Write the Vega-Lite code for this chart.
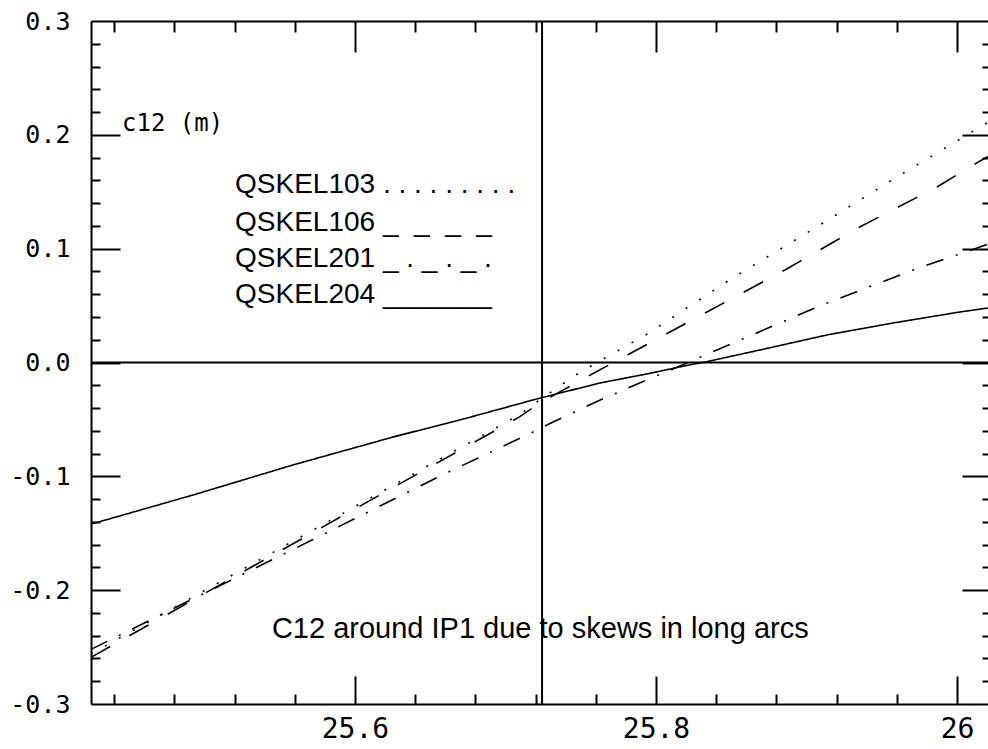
{
  "$schema": "https://vega.github.io/schema/vega-lite/v6.json",
  "width": 897,
  "height": 683,
  "autosize": {"type": "none"},
  "padding": {"left": 91, "top": 21, "right": 0, "bottom": 45},
  "background": "white",
  "config": {
    "view": {"stroke": null},
    "axis": {"grid": false, "title": null, "domainColor": "black", "domainWidth": 2, "tickColor": "black", "tickWidth": 2, "labelColor": "black", "labelFont": "DejaVu Sans Mono", "labelFlush": false, "labelOverlap": false}
  },
  "datasets": {
    "lines": [
      {"series": "QSKEL204", "x": 25.4246, "y": -0.142},
      {"series": "QSKEL204", "x": 25.4924, "y": -0.1164},
      {"series": "QSKEL204", "x": 25.5588, "y": -0.090},
      {"series": "QSKEL204", "x": 25.6252, "y": -0.0655},
      {"series": "QSKEL204", "x": 25.6744, "y": -0.0488},
      {"series": "QSKEL204", "x": 25.7236, "y": -0.031},
      {"series": "QSKEL204", "x": 25.7628, "y": -0.018},
      {"series": "QSKEL204", "x": 25.7960, "y": -0.0095},
      {"series": "QSKEL204", "x": 25.8226, "y": -0.002},
      {"series": "QSKEL204", "x": 25.8326, "y": 0.0004},
      {"series": "QSKEL204", "x": 25.8691, "y": 0.011},
      {"series": "QSKEL204", "x": 25.9136, "y": 0.0242},
      {"series": "QSKEL204", "x": 25.9575, "y": 0.0347},
      {"series": "QSKEL204", "x": 26.0020, "y": 0.0444},
      {"series": "QSKEL204", "x": 26.0206, "y": 0.0479},
      {"series": "QSKEL103", "x": 25.4246, "y": -0.256},
      {"series": "QSKEL103", "x": 25.5900, "y": -0.134},
      {"series": "QSKEL103", "x": 25.7090, "y": -0.0461},
      {"series": "QSKEL103", "x": 25.7236, "y": -0.032},
      {"series": "QSKEL103", "x": 25.7488, "y": -0.0092},
      {"series": "QSKEL103", "x": 25.7953, "y": 0.0259},
      {"series": "QSKEL103", "x": 25.8498, "y": 0.0734},
      {"series": "QSKEL103", "x": 25.9057, "y": 0.1182},
      {"series": "QSKEL103", "x": 25.9601, "y": 0.163},
      {"series": "QSKEL103", "x": 26.0153, "y": 0.2069},
      {"series": "QSKEL103", "x": 26.0206, "y": 0.211},
      {"series": "QSKEL106", "x": 25.4246, "y": -0.259},
      {"series": "QSKEL106", "x": 25.5900, "y": -0.136},
      {"series": "QSKEL106", "x": 25.7090, "y": -0.048},
      {"series": "QSKEL106", "x": 25.7236, "y": -0.035},
      {"series": "QSKEL106", "x": 25.7588, "y": -0.0092},
      {"series": "QSKEL106", "x": 25.7834, "y": 0.0083},
      {"series": "QSKEL106", "x": 25.8339, "y": 0.0444},
      {"series": "QSKEL106", "x": 25.8857, "y": 0.0813},
      {"series": "QSKEL106", "x": 25.9342, "y": 0.1182},
      {"series": "QSKEL106", "x": 25.9867, "y": 0.1542},
      {"series": "QSKEL106", "x": 26.0120, "y": 0.1745},
      {"series": "QSKEL106", "x": 26.0206, "y": 0.181},
      {"series": "QSKEL201", "x": 25.4246, "y": -0.252},
      {"series": "QSKEL201", "x": 25.5714, "y": -0.156},
      {"series": "QSKEL201", "x": 25.6578, "y": -0.0989},
      {"series": "QSKEL201", "x": 25.7169, "y": -0.062},
      {"series": "QSKEL201", "x": 25.7316, "y": -0.0523},
      {"series": "QSKEL201", "x": 25.7615, "y": -0.0338},
      {"series": "QSKEL201", "x": 25.7907, "y": -0.0171},
      {"series": "QSKEL201", "x": 25.8206, "y": -0.0004},
      {"series": "QSKEL201", "x": 25.8512, "y": 0.0171},
      {"series": "QSKEL201", "x": 25.9103, "y": 0.0505},
      {"series": "QSKEL201", "x": 25.9708, "y": 0.0813},
      {"series": "QSKEL201", "x": 26.0133, "y": 0.1006},
      {"series": "QSKEL201", "x": 26.0206, "y": 0.104}
    ],
    "legend": [
      {"label": "QSKEL103 . . . . . . . . .", "x": 25.5203, "y": 0.149},
      {"label": "QSKEL106 _\u00a0\u00a0_\u00a0\u00a0_\u00a0\u00a0_", "x": 25.5203, "y": 0.1156},
      {"label": "QSKEL201 _\u00a0.\u00a0_\u00a0.\u00a0_\u00a0.", "x": 25.5203, "y": 0.0839},
      {"label": "QSKEL204 _______", "x": 25.5203, "y": 0.0523}
    ],
    "caption": [
      {"label": "C12 around IP1 due to skews in long arcs", "x": 25.5448, "y": -0.2421}
    ],
    "ytitle": [
      {"label": "c12 (m)", "x": 25.4452, "y": 0.2034}
    ],
    "vline": [{"x": 25.7243}],
    "hline": [{"y": 0}]
  },
  "resolve": {"axis": {"x": "independent", "y": "independent"}},
  "layer": [
    {
      "data": {"name": "lines"},
      "mark": {"type": "line", "color": "black", "strokeWidth": 1.6, "strokeCap": "butt"},
      "encoding": {
        "x": {"field": "x", "type": "quantitative",
          "scale": {"domain": [25.4246, 26.0206], "nice": false, "zero": false},
          "axis": {"orient": "bottom", "values": [25.6, 25.8, 26], "format": "~f", "ticks": false, "domain": true, "labelFontSize": 28, "labelPadding": 11}},
        "y": {"field": "y", "type": "quantitative",
          "scale": {"domain": [-0.3, 0.3], "nice": false, "zero": false},
          "axis": {"orient": "left", "values": [-0.3, -0.2, -0.1, 0, 0.1, 0.2, 0.3], "labelExpr": "replace(format(datum.value, '.1f'), '\u2212', '-')", "ticks": false, "domain": true, "labelFontSize": 25, "labelPadding": 21}},
        "detail": {"field": "series"},
        "strokeDash": {"field": "series", "type": "nominal", "legend": null,
          "scale": {"domain": ["QSKEL103", "QSKEL106", "QSKEL201", "QSKEL204"], "range": [[2, 14], [22, 22], [18, 13, 2, 13], [1, 0]]}}
      }
    },
    {
      "data": {"name": "legend"},
      "mark": {"type": "text", "align": "left", "baseline": "alphabetic", "font": "Liberation Sans", "fontSize": 28, "color": "black"},
      "encoding": {
        "x": {"field": "x", "type": "quantitative",
          "scale": {"domain": [25.4246, 26.0206], "nice": false, "zero": false},
          "axis": {"orient": "bottom", "values": [25.44, 25.48, 25.52, 25.56, 25.6, 25.64, 25.68, 25.72, 25.76, 25.8, 25.84, 25.88, 25.92, 25.96, 26.0], "labels": false, "domain": false,
            "tickSize": {"condition": {"test": "abs(datum.value*5 - round(datum.value*5)) < 0.001", "value": -28}, "value": -10}}},
        "y": {"field": "y", "type": "quantitative",
          "scale": {"domain": [-0.3, 0.3], "nice": false, "zero": false},
          "axis": {"orient": "left", "values": [-0.28, -0.26, -0.24, -0.22, -0.2, -0.18, -0.16, -0.14, -0.12, -0.1, -0.08, -0.06, -0.04, -0.02, 0, 0.02, 0.04, 0.06, 0.08, 0.1, 0.12, 0.14, 0.16, 0.18, 0.2, 0.22, 0.24, 0.26, 0.28], "labels": false, "domain": false,
            "tickSize": {"condition": {"test": "abs(datum.value*10 - round(datum.value*10)) < 0.001", "value": -29}, "value": -9}}},
        "text": {"field": "label"}
      }
    },
    {
      "data": {"name": "caption"},
      "mark": {"type": "text", "align": "left", "baseline": "alphabetic", "font": "Liberation Sans", "fontSize": 29, "color": "black"},
      "encoding": {
        "x": {"field": "x", "type": "quantitative",
          "scale": {"domain": [25.4246, 26.0206], "nice": false, "zero": false},
          "axis": {"orient": "top", "values": [25.44, 25.48, 25.52, 25.56, 25.6, 25.64, 25.68, 25.72, 25.76, 25.8, 25.84, 25.88, 25.92, 25.96, 26.0], "labels": false, "domain": true,
            "tickSize": {"condition": {"test": "abs(datum.value*5 - round(datum.value*5)) < 0.001", "value": -31}, "value": -11}}},
        "y": {"field": "y", "type": "quantitative",
          "scale": {"domain": [-0.3, 0.3], "nice": false, "zero": false},
          "axis": {"orient": "right", "values": [-0.28, -0.26, -0.24, -0.22, -0.2, -0.18, -0.16, -0.14, -0.12, -0.1, -0.08, -0.06, -0.04, -0.02, 0, 0.02, 0.04, 0.06, 0.08, 0.1, 0.12, 0.14, 0.16, 0.18, 0.2, 0.22, 0.24, 0.26, 0.28], "labels": false, "domain": false,
            "tickSize": {"condition": {"test": "abs(datum.value*10 - round(datum.value*10)) < 0.001", "value": -26}, "value": -6}}},
        "text": {"field": "label"}
      }
    },
    {
      "data": {"name": "ytitle"},
      "mark": {"type": "text", "align": "left", "baseline": "alphabetic", "font": "DejaVu Sans Mono", "fontSize": 24, "color": "black"},
      "encoding": {
        "x": {"field": "x", "type": "quantitative", "scale": {"domain": [25.4246, 26.0206], "nice": false, "zero": false}, "axis": null},
        "y": {"field": "y", "type": "quantitative", "scale": {"domain": [-0.3, 0.3], "nice": false, "zero": false}, "axis": null},
        "text": {"field": "label"}
      }
    },
    {
      "data": {"name": "vline"},
      "mark": {"type": "rule", "color": "black", "strokeWidth": 2},
      "encoding": {
        "x": {"field": "x", "type": "quantitative", "scale": {"domain": [25.4246, 26.0206], "nice": false, "zero": false}, "axis": null}
      }
    },
    {
      "data": {"name": "hline"},
      "mark": {"type": "rule", "color": "black", "strokeWidth": 2},
      "encoding": {
        "y": {"field": "y", "type": "quantitative", "scale": {"domain": [-0.3, 0.3], "nice": false, "zero": false}, "axis": null}
      }
    }
  ]
}
